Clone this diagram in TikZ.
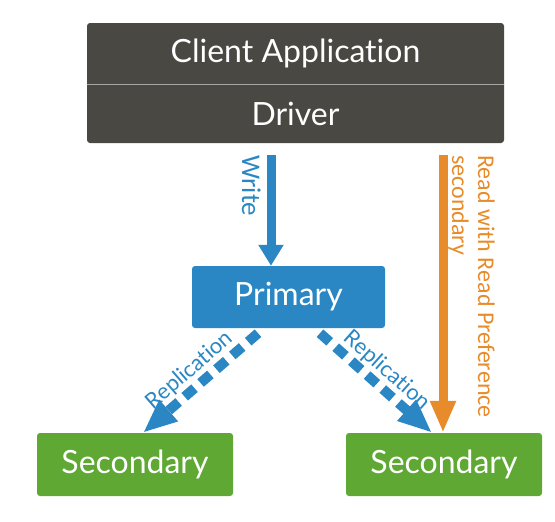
\documentclass[tikz,border=0pt]{standalone}
\usepackage{fontspec}
\setmainfont{Lato}[Ligatures=NoCommon]
\newfontfamily\labelfont{Carlito}
\usetikzlibrary{arrows.meta}
\usetikzlibrary{calc}
\definecolor{driverbg}{HTML}{4A4843}
\definecolor{primblue}{HTML}{2A87C3}
\definecolor{secgreen}{HTML}{5EA833}
\definecolor{readorange}{HTML}{E88B2A}

\begin{document}
\begin{tikzpicture}[x=1pt,y=1pt]
    \tikzstyle{box}=[rounded corners=3pt, text=white, inner sep=0pt
    , font=\fontsize{32}{36}\selectfont]
    \tikzstyle{vlabel}=[rotate=-90, anchor=north west, inner sep=0pt
    , font=\labelfont\fontsize{24}{26}\selectfont]
    \tikzstyle{writearrow}=[draw=primblue, line width=9pt
    , -{Triangle[width=24pt,length=21pt]}]
    \tikzstyle{readarrow}=[draw=readorange, line width=9pt
    , -{Triangle[width=24pt,length=32pt]}]
    \tikzstyle{repl}=[draw=primblue, line width=10pt, dash pattern=on 13pt off 8pt
    , -{Triangle[width=26pt,length=34pt]}]
    \tikzstyle{repllabel}=[midway, sloped, above, inner sep=1.5pt
    , font=\fontsize{22}{24}\selectfont, text=primblue]
    \useasboundingbox (0,0) rectangle (555,-522);
    % Draw the boxes
    \node[box, fill=driverbg, minimum width=417pt, minimum height=120pt] (stack) at (295.5,-83) {};
    \node[box, minimum width=417pt, minimum height=61pt] (client) at (295.5,-53.5) {Client Application};
    \node[box, minimum width=417pt, minimum height=59pt] (driver) at (295.5,-113.5) {Driver};
    \draw[black!35, line width=1pt] (client.south west) -- (client.south east);
    \node[box, fill=primblue, minimum width=193pt, minimum height=62pt] (primary) at (288.5,-297) {Primary};
    \node[box, fill=secgreen, minimum width=196pt, minimum height=63pt] (lsec) at (135,-464.5) {Secondary};
    \node[box, fill=secgreen, minimum width=196pt, minimum height=63pt] (rsec) at (444,-464.5) {Secondary};
    % Draw the arrows
    \coordinate (wtop) at ($(driver.south)+(-24.5,-12)$);
    \draw[writearrow] (wtop) -- (wtop |- primary.north);
    \coordinate (rtop) at ($(rsec.north |- driver.south)+(-1,-12)$);
    \draw[readarrow] (rtop) -- (rtop |- rsec.north);
    \draw[repl] ($(primary.south)+(-30.5,-5)$) -- node[repllabel] (lrepl) {Replication} ($(lsec.north)+(8,0)$);
    \draw[repl] ($(primary.south)+(31.5,-5)$) -- node[repllabel] (rrepl) {Replication} ($(rsec.north)+(-12,0)$);
    % Labels
    \node[vlabel, text=primblue, font=\labelfont\fontsize{27}{30}\selectfont] (writelbl) at (261,-155) {Write};
    \node[vlabel, text=readorange, align=left] (readlbl) at (495,-155) {Read with Read Preference\\secondary};
\end{tikzpicture}
\end{document}
